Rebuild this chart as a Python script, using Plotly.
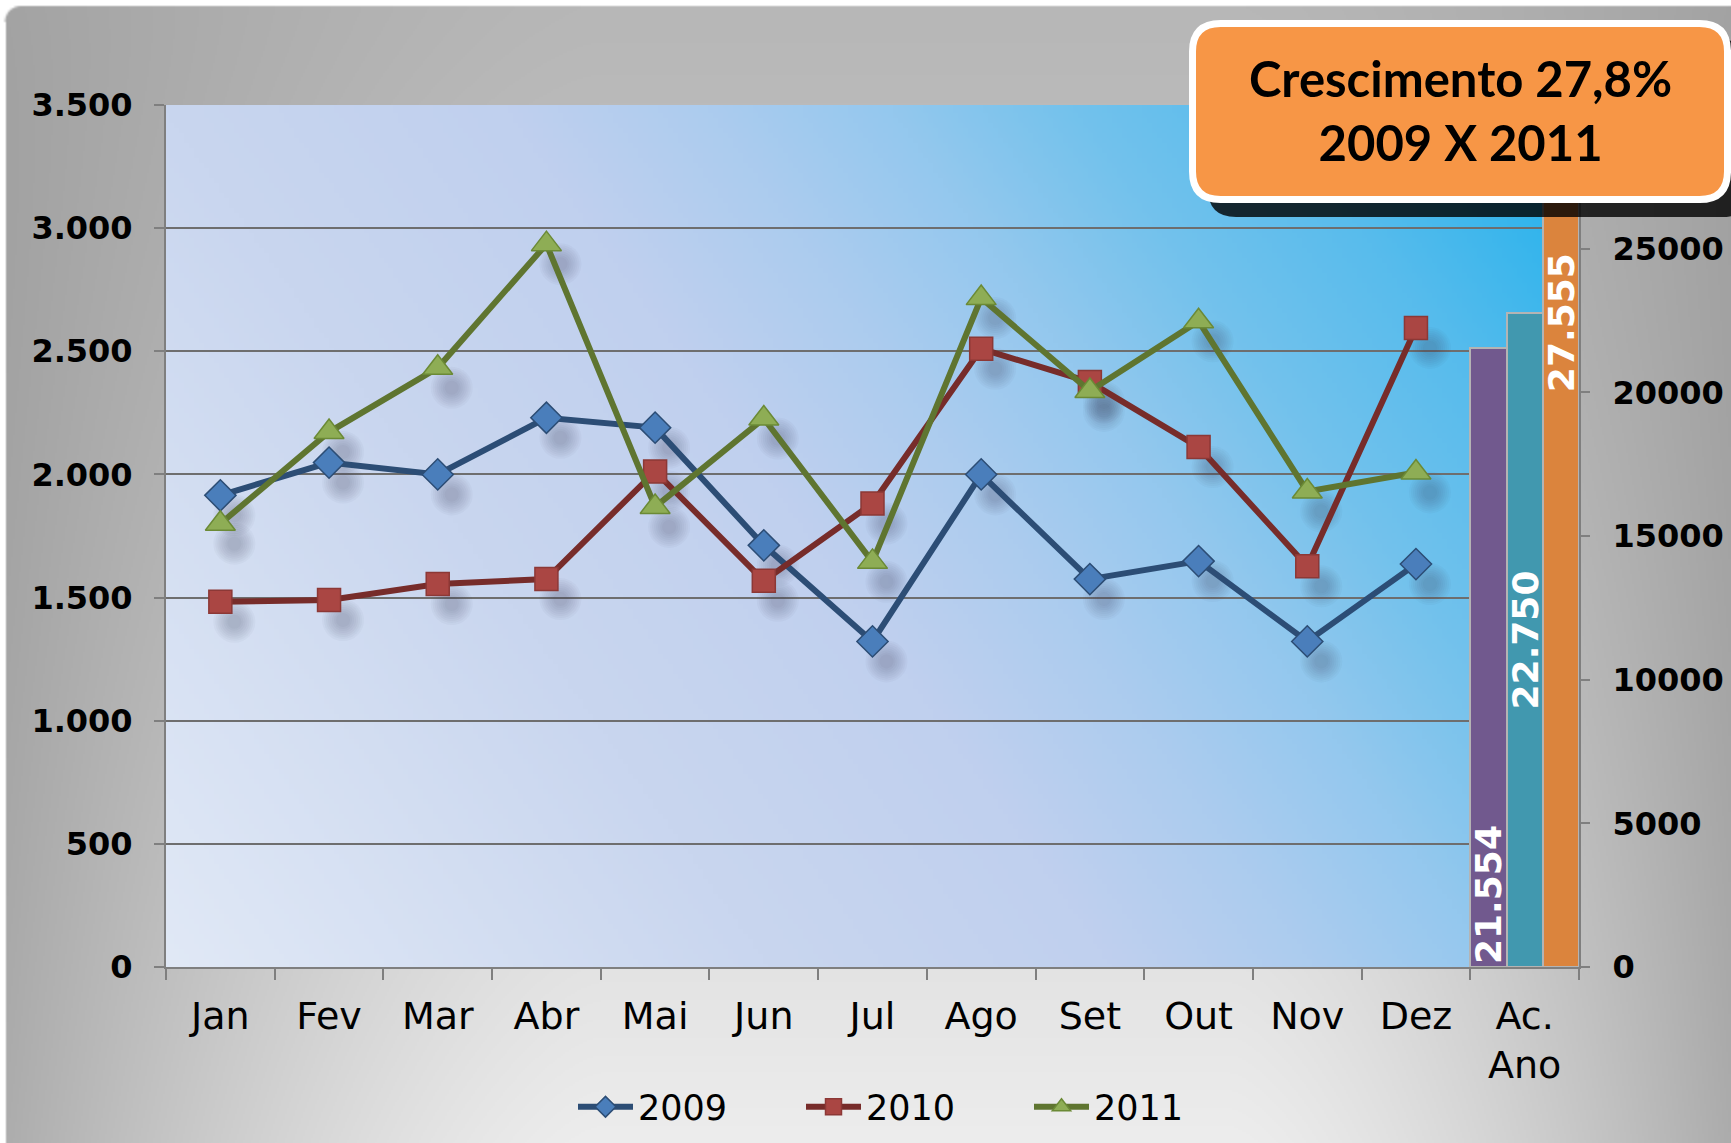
import base64
import struct
import zlib

import numpy as np
import plotly.graph_objects as go

# ---------------- data ----------------
categories = ["Jan", "Fev", "Mar", "Abr", "Mai", "Jun", "Jul", "Ago", "Set", "Out", "Nov", "Dez", "Ac. Ano"]
tick_text = ["Jan", "Fev", "Mar", "Abr", "Mai", "Jun", "Jul", "Ago", "Set", "Out", "Nov", "Dez", "Ac.<br>Ano"]
months = categories[:12]

v2009 = [1915, 2048, 2000, 2230, 2190, 1712, 1322, 2000, 1575, 1648, 1322, 1636]
v2010 = [1483, 1490, 1555, 1575, 2012, 1568, 1882, 2510, 2375, 2111, 1627, 2595]
v2011 = [1800, 2172, 2433, 2935, 1868, 2227, 1645, 2716, 2339, 2622, 1931, 2008]

acum_labels = ["2009", "2010", "2011"]
acum_values = [21554, 22750, 27555]

box_text = "Crescimento 27,8%<br>2009 X 2011"

# ---------------- geometry ----------------
W, H = 1731, 1143
ML, MR, MT, MB = 166, 152, 105, 176
PW, PH = W - ML - MR, H - MT - MB
YMAX_L, YMAX_R = 3500, 30000

# marker drop-shadow offset (pixels right / down)
SH_DX, SH_DY = 14, 20
sh_dx_cat = SH_DX / (PW / len(categories))
sh_dy_val = SH_DY / PH * YMAX_L


def px_x(px):
    return (px - ML) / PW


def px_y(py):
    return (H - MB - py) / PH


def png_uri(arr):
    h, w, c = arr.shape
    raw = arr.astype(np.int16)
    diff = raw.copy()
    diff[:, 1:, :] = raw[:, 1:, :] - raw[:, :-1, :]
    diff = (diff % 256).astype(np.uint8)
    rows = np.concatenate([np.ones((h, 1), np.uint8), diff.reshape(h, w * c)], axis=1)
    data = zlib.compress(rows.tobytes(), 9)

    def chunk(tag, payload):
        return (struct.pack(">I", len(payload)) + tag + payload
                + struct.pack(">I", zlib.crc32(tag + payload) & 0xFFFFFFFF))

    ihdr = struct.pack(">IIBBBBB", w, h, 8, 6 if c == 4 else 2, 0, 0, 0)
    png = b"\x89PNG\r\n\x1a\n" + chunk(b"IHDR", ihdr) + chunk(b"IDAT", data) + chunk(b"IEND", b"")
    return "data:image/png;base64," + base64.b64encode(png).decode()


# frame background (gray gradient, white outside the rounded top-left corner)
fw, fh = 866, 572
xs = (np.arange(fw) + 0.5) * W / fw
ys = (np.arange(fh) + 0.5) * H / fh
X, Y = np.meshgrid(xs, ys)
V = 183 + 54 * (Y / H) ** 1.2
strength = 20 + 45 * (Y / H)
left = np.clip(1 - X / 600, 0, 1) ** 1.5
right = np.clip(1 - (W - X) / 500, 0, 1) ** 1.5
B = np.clip(V - strength * (left + right), 0, 255)
inside = np.ones_like(B)
inside[(X < 5) | (Y < 6)] = 0
r = 16
cx, cy = 5 + r, 6 + r
corner = (X < cx) & (Y < cy)
dist = np.sqrt((X - cx) ** 2 + (Y - cy) ** 2)
inside[corner] = np.clip((r - dist[corner]) * 0.5 + 0.5, 0, 1)
B = B * inside + 255 * (1 - inside)
frame = np.stack([B, B, B], axis=-1).astype(np.uint8)
frame_uri = png_uri(frame)

# plot area gradient (light lavender -> bright cyan along a tilted diagonal)
gw, gh = 283, 172
gx = (np.arange(gw) + 0.5) / gw * PW
gy = (1 - (np.arange(gh) + 0.5) / gh) * PH
GX, GY = np.meshgrid(gx, gy)
S = (862 * GX + 608 * GY) / (862 * PW + 608 * PH)
stops = [0.0, 0.30, 0.47, 0.57, 0.66, 0.75, 0.85, 1.0]
cols = np.array([
    [225, 233, 246],
    [201, 214, 239],
    [192, 208, 238],
    [172, 204, 238],
    [148, 200, 238],
    [115, 194, 236],
    [88, 188, 236],
    [26, 176, 236],
], dtype=float)
grad = np.stack([np.interp(S, stops, cols[:, k]) for k in range(3)], axis=-1)
grad_uri = png_uri(np.clip(grad, 0, 255).astype(np.uint8))

# ---------------- figure ----------------
fig = go.Figure()

line_specs = [
    ("2009", v2009, "#2C4D75", "#4A7EBB", "#2C4D75", "diamond", 24),
    ("2010", v2010, "#772C2A", "#AA4643", "#8C3836", "square", 23),
    ("2011", v2011, "#5F7530", "#8EAD55", "#6B8A36", "triangle-up", 26),
]

# soft marker shadows (drawn on hidden, slightly shifted axes)
shadow_sizes = [42, 38, 34, 30, 26, 22, 18, 14]
for name, vals, *_ in line_specs:
    for size in shadow_sizes:
        fig.add_trace(go.Scatter(
            x=months, y=vals, xaxis="x", yaxis="y", mode="markers", showlegend=False,
            hoverinfo="skip",
            marker=dict(symbol="circle", size=size, color="rgba(45,55,85,0.035)", line=dict(width=0)),
        ))

for name, vals, lc, mc, mlc, sym, sz in line_specs:
    fig.add_trace(go.Scatter(
        x=months, y=vals, name=name, mode="lines+markers", xaxis="x2", yaxis="y3",
        line=dict(color=lc, width=6),
        marker=dict(symbol=sym, size=sz, color=mc, line=dict(color=mlc, width=1.5)),
    ))

bar_colors = ["#71598E", "#4198AF", "#DB843D"]
bar_anchor = ["start", "middle", "end"]
bar_tmpl = ["%{y:,d}", "%{y:,d}", "%{y:,d}" + "\u00a0" * 6]
for lab, val, col, anc, tmpl in zip(acum_labels, acum_values, bar_colors, bar_anchor, bar_tmpl):
    fig.add_trace(go.Bar(
        x=["Ac. Ano"], y=[val], xaxis="x2", yaxis="y2", name="Ac. " + lab, showlegend=False,
        marker=dict(color=col, line=dict(color="#B4B4B4", width=2)),
        texttemplate=tmpl, textposition="inside", insidetextanchor=anc,
        textangle=-90, constraintext="none", cliponaxis=False,
        textfont=dict(family="DejaVu Sans", size=36, color="white", weight="bold"),
    ))


def rrect_path(x0, y0, x1, y1, rad):
    pts = [
        ("M", [(x0 + rad, y0)]), ("L", [(x1 - rad, y0)]), ("Q", [(x1, y0), (x1, y0 + rad)]),
        ("L", [(x1, y1 - rad)]), ("Q", [(x1, y1), (x1 - rad, y1)]),
        ("L", [(x0 + rad, y1)]), ("Q", [(x0, y1), (x0, y1 - rad)]),
        ("L", [(x0, y0 + rad)]), ("Q", [(x0, y0), (x0 + rad, y0)]),
    ]
    s = ""
    for cmd, ps in pts:
        s += cmd + " " + " ".join(f"{px_x(a):.5f},{px_y(b):.5f}" for a, b in ps) + " "
    return s + "Z"


shapes = [
    dict(type="path", xref="paper", yref="paper", path=rrect_path(1208, 40, 1750, 217, 28),
         fillcolor="rgba(0,0,0,0.8)", line=dict(width=0)),
    dict(type="path", xref="paper", yref="paper", path=rrect_path(1192.5, 23.5, 1727.5, 199.5, 28),
         fillcolor="#F79646", line=dict(color="white", width=7)),
]

axis_common = dict(tickcolor="#7F7F7F", linecolor="#7F7F7F", linewidth=2, tickwidth=2, automargin=False)

fig.update_layout(
    width=W, height=H,
    margin=dict(l=ML, r=MR, t=MT, b=MB, pad=0, autoexpand=False),
    paper_bgcolor="#C0C0C0", plot_bgcolor="rgba(0,0,0,0)",
    separators=",.",
    barmode="group", bargap=0, bargroupgap=0,
    font=dict(family="DejaVu Sans", color="black"),
    images=[
        dict(source=frame_uri, xref="paper", yref="paper", x=-ML / PW, y=1 + MT / PH,
             sizex=W / PW, sizey=H / PH, xanchor="left", yanchor="top",
             sizing="stretch", layer="below"),
        dict(source=grad_uri, xref="paper", yref="paper", x=0, y=1, sizex=1, sizey=1,
             xanchor="left", yanchor="top", sizing="stretch", layer="below"),
    ],
    # hidden, shifted axes carrying the marker shadows
    xaxis=dict(
        type="category", categoryorder="array", categoryarray=categories,
        range=[-0.5 - sh_dx_cat, len(categories) - 0.5 - sh_dx_cat],
        visible=False, showgrid=False, zeroline=False, automargin=False,
    ),
    yaxis=dict(
        range=[sh_dy_val, YMAX_L + sh_dy_val], visible=False, showgrid=False,
        zeroline=False, automargin=False,
    ),
    xaxis2=dict(
        overlaying="x", anchor="y3", side="bottom",
        type="category", categoryorder="array", categoryarray=categories,
        tickvals=categories, ticktext=tick_text, range=[-0.5, len(categories) - 0.5],
        ticks="outside", tickson="boundaries", ticklen=11,
        showline=True, showgrid=False, zeroline=False,
        tickfont=dict(family="DejaVu Sans", size=38, color="black"), ticklabelstandoff=14,
        **axis_common,
    ),
    yaxis3=dict(
        overlaying="y", anchor="x2", side="left",
        range=[0, YMAX_L], dtick=500, tickformat=",d",
        showgrid=True, gridcolor="#6E6E6E", gridwidth=1.5, zeroline=False,
        ticks="outside", ticklen=10, showline=True,
        tickfont=dict(family="DejaVu Sans", size=32, color="black", weight="bold"),
        ticklabelstandoff=15,
        **axis_common,
    ),
    yaxis2=dict(
        overlaying="y", anchor="x2", side="right", range=[0, YMAX_R],
        tickvals=[0, 5000, 10000, 15000, 20000, 25000], tickformat="d",
        showgrid=False, zeroline=False,
        ticks="outside", ticklen=9, showline=True,
        tickfont=dict(family="DejaVu Sans", size=32, color="black", weight="bold"),
        ticklabelstandoff=16,
        **axis_common,
    ),
    legend=dict(
        orientation="h", x=px_x(915), xanchor="center", y=px_y(1107), yanchor="middle",
        font=dict(family="DejaVu Sans", size=35, color="black"),
        bgcolor="rgba(0,0,0,0)", entrywidth=158, itemwidth=55,
    ),
    shapes=shapes,
    annotations=[
        dict(text=box_text, xref="paper", yref="paper", x=px_x(1460), y=px_y(110),
             xanchor="center", yanchor="middle", showarrow=False,
             font=dict(family="Lato", size=49, color="black", weight="bold")),
    ],
)

fig.write_html(
    "out.html",
    config={"displayModeBar": False},
    post_script="document.body.style.margin='0';document.body.style.overflow='hidden';",
)
